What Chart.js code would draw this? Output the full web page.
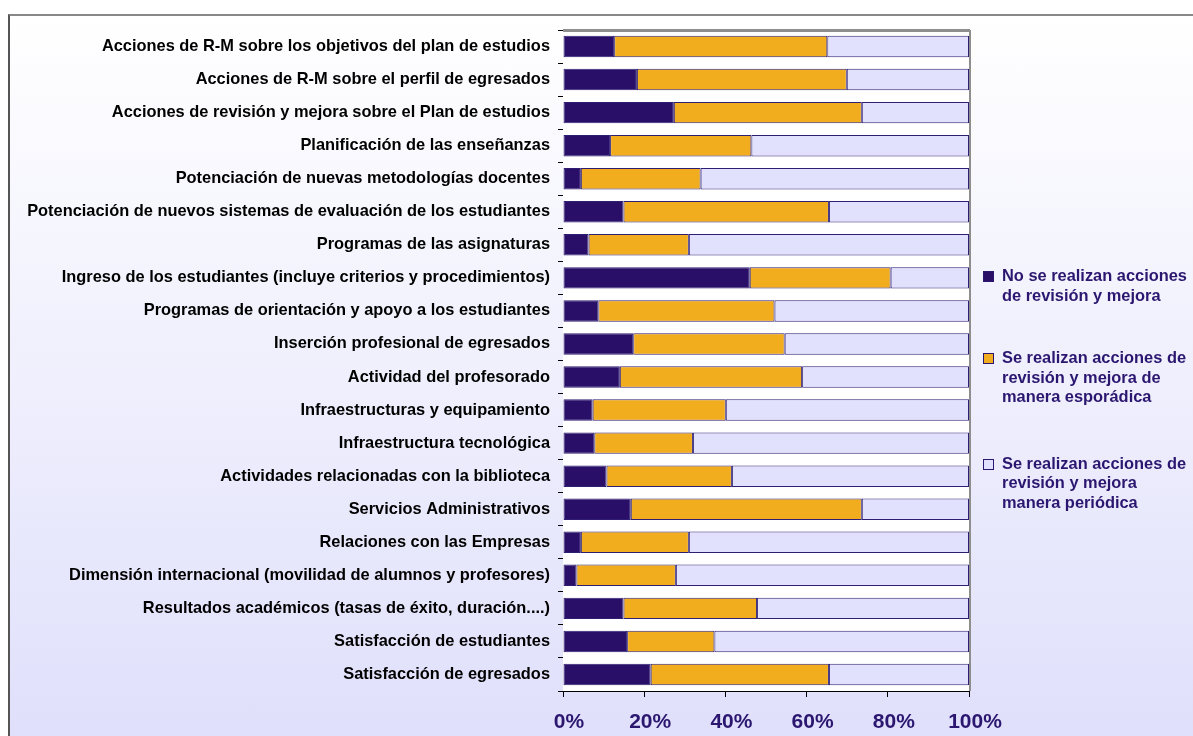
<!DOCTYPE html>
<html>
<head>
<meta charset="utf-8">
<script src="https://cdn.jsdelivr.net/npm/chart.js@4/dist/chart.umd.min.js"></script>
<style>
  html, body { margin: 0; padding: 0; background: #fff; overflow: hidden; }
  #frame {
    position: absolute; left: 8px; top: 14px; width: 1300px; height: 800px;
    border-left: 2px solid #555; border-top: 2px solid #888;
    background: linear-gradient(to bottom, #ffffff 0%, #dcdcfb 100%);
  }
  #wrap { position: absolute; left: 0; top: 0; width: 1193px; height: 736px; }
  #legend {
    position: absolute; left: 983px; top: 266px;
    font: bold 16.4px "Liberation Sans", Arial, sans-serif; color: #2b1670;
  }
  .item { position: relative; padding-left: 19px; line-height: 19.5px; }
  .box { position: absolute; left: 0; top: 5px; width: 9px; height: 9px; border: 1px solid #2b1670; }
</style>
</head>
<body>
<div id="frame"></div>
<div id="wrap"><canvas id="myChart" width="1193" height="736"></canvas></div>
<div id="legend"></div>
<script>
// categories (top to bottom)
var categorias = [
  "Acciones de R-M sobre los objetivos del plan de estudios",
  "Acciones de R-M sobre el perfil de egresados",
  "Acciones de revisión y mejora sobre el Plan de estudios",
  "Planificación de las enseñanzas",
  "Potenciación de nuevas metodologías docentes",
  "Potenciación de nuevos sistemas de evaluación de los estudiantes",
  "Programas de las asignaturas",
  "Ingreso de los estudiantes (incluye criterios y procedimientos)",
  "Programas de orientación y apoyo a los estudiantes",
  "Inserción profesional de egresados",
  "Actividad del profesorado",
  "Infraestructuras y equipamiento",
  "Infraestructura tecnológica",
  "Actividades relacionadas con la biblioteca",
  "Servicios Administrativos",
  "Relaciones con las Empresas",
  "Dimensión internacional (movilidad de alumnos y profesores)",
  "Resultados académicos (tasas de éxito, duración....)",
  "Satisfacción de estudiantes",
  "Satisfacción de egresados"
];

// % per category
var noSeRealizan = [12.6, 18.2, 27.3, 11.6, 4.4, 14.9, 6.3, 46.0, 8.7, 17.3, 14.0, 7.3, 7.7, 10.7, 16.7, 4.4, 3.3, 14.9, 15.8, 21.6];
var esporadica   = [52.5, 51.7, 46.3, 34.8, 29.5, 50.6, 24.7, 34.7, 43.4, 37.3, 44.9, 32.8, 24.3, 30.9, 56.9, 26.6, 24.5, 32.9, 21.5, 43.9];
var periodica    = [34.9, 30.1, 26.4, 53.6, 66.1, 34.5, 69.0, 19.3, 47.9, 45.4, 41.1, 59.9, 68.0, 58.4, 26.4, 69.0, 72.2, 52.2, 62.7, 34.5];

var ticksX = [0, 20, 40, 60, 80, 100];

var leyendas = [
  ["No se realizan acciones", "de revisión y mejora"],
  ["Se realizan acciones de", "revisión y mejora de", "manera esporádica"],
  ["Se realizan acciones de", "revisión y mejora", "manera periódica"]
];
var colores = ["#290f68", "#f2ad1f", "#e1e1fd"];
var borde = "#2e1f74";

var ctx = document.getElementById('myChart');

// white plot area + grey 3d edges on top and right
var plotBg = {
  id: 'plotBg',
  beforeDatasetsDraw: function(chart) {
    var a = chart.chartArea, c = chart.ctx;
    c.save();
    c.fillStyle = '#ffffff';
    c.fillRect(a.left, a.top, a.right - a.left, a.bottom - a.top);
    c.restore();
  },
  afterDraw: function(chart) {
    var a = chart.chartArea, c = chart.ctx;
    c.save();
    c.strokeStyle = '#8e8e8e';
    c.lineWidth = 3;
    c.beginPath();
    c.moveTo(a.left, a.top + 0.5);
    c.lineTo(a.right + 1, a.top + 0.5);
    c.stroke();
    c.lineWidth = 2;
    c.beginPath();
    c.moveTo(a.right + 1, a.top);
    c.lineTo(a.right + 1, a.bottom);
    c.stroke();
    c.restore();
  }
};

var datasets = [noSeRealizan, esporadica, periodica].map(function(d, i) {
  return {
    label: leyendas[i].join(' '),
    data: d,
    backgroundColor: colores[i],
    borderColor: borde,
    borderWidth: 1,
    borderSkipped: false,
    barPercentage: 0.65,
    categoryPercentage: 1.0
  };
});

var myChart = new Chart(ctx, {
  type: 'bar',
  data: { labels: categorias, datasets: datasets },
  plugins: [plotBg],
  options: {
    responsive: false,
    animation: false,
    indexAxis: 'y',
    layout: { padding: { top: 30, right: 224, left: 0, bottom: 0 } },
    plugins: { legend: { display: false }, tooltip: { enabled: false } },
    scales: {
      x: {
        stacked: true, min: 0, max: 100,
        afterFit: function(s) { s.height = 45; },
        afterBuildTicks: function(s) { s.ticks = ticksX.map(function(v) { return { value: v }; }); },
        grid: { drawOnChartArea: false, tickLength: 6, color: '#000' },
        border: { color: '#000', width: 1 },
        ticks: {
          callback: function(v) { return v + '%'; },
          font: { family: '"Liberation Sans", Arial, sans-serif', size: 21, weight: 'bold' },
          color: '#2b1670', padding: 13, labelOffset: 6, maxRotation: 0
        }
      },
      y: {
        stacked: true,
        afterFit: function(s) { s.width = 563; },
        grid: { drawOnChartArea: false, tickLength: 5, color: '#000', offset: true },
        border: { color: '#000', width: 1 },
        ticks: {
          font: { family: '"Liberation Sans", Arial, sans-serif', size: 16.4, weight: 'bold' },
          color: '#000', padding: 8, autoSkip: false
        }
      }
    }
  }
});

// legend on the right
var leg = document.getElementById('legend');
var gaps = [0, 43, 47];
leyendas.forEach(function(lines, i) {
  var it = document.createElement('div');
  it.className = 'item';
  it.style.marginTop = gaps[i] + 'px';
  var b = document.createElement('span');
  b.className = 'box';
  b.style.background = colores[i];
  it.appendChild(b);
  lines.forEach(function(t) {
    var l = document.createElement('div');
    l.textContent = t;
    it.appendChild(l);
  });
  leg.appendChild(it);
});
</script>
</body>
</html>
